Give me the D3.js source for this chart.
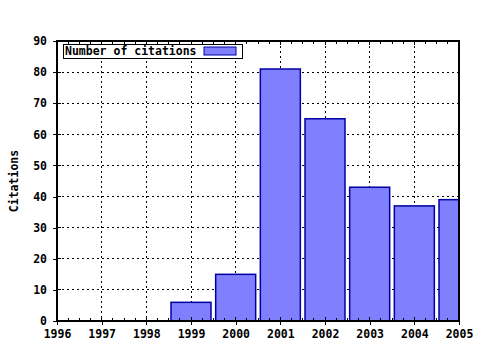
<!DOCTYPE html>
<html>
<head>
<meta charset="utf-8">
<script src="https://cdn.jsdelivr.net/npm/d3@7"></script>
<style>
  body { margin: 0; background: #fff; }
  text { font-family: "DejaVu Sans Mono", monospace; font-weight: bold; font-size: 11.5px; fill: #000; }
</style>
</head>
<body>
<svg id="chart" width="480" height="350"></svg>
<script>
// data
const years = [1996, 1997, 1998, 1999, 2000, 2001, 2002, 2003, 2004, 2005];
const citations = [0, 0, 0, 6, 15, 81, 65, 43, 37, 39];
const yTicks = [0, 10, 20, 30, 40, 50, 60, 70, 80, 90];

const margin = { left: 57, right: 21, top: 41, bottom: 29 };
const svg = d3.select("#chart");
const W = +svg.attr("width"), H = +svg.attr("height");
const iw = W - margin.left - margin.right, ih = H - margin.top - margin.bottom;

const g = svg.append("g").attr("transform", `translate(${margin.left},${margin.top})`);

const x = d3.scaleLinear().domain([1996, 2005]).range([0, iw]);
const y = d3.scaleLinear().domain([0, 90]).range([ih, 0]);

// grid
g.selectAll(".vgrid").data(years.slice(1, -1)).enter().append("line")
  .attr("x1", d => x(d)).attr("x2", d => x(d)).attr("y1", 0).attr("y2", ih)
  .attr("stroke", "#000").attr("stroke-width", 1).attr("stroke-dasharray", "2,3")
  .attr("shape-rendering", "crispEdges");
g.selectAll(".hgrid").data(yTicks.slice(1, -1)).enter().append("line")
  .attr("x1", 0).attr("x2", iw).attr("y1", d => y(d)).attr("y2", d => y(d))
  .attr("stroke", "#000").attr("stroke-width", 1).attr("stroke-dasharray", "2,3")
  .attr("shape-rendering", "crispEdges");

// bars
const bw = 40;
g.append("clipPath").attr("id", "clip").append("rect").attr("width", iw + 1).attr("height", ih);
g.append("g").attr("clip-path", "url(#clip)")
  .selectAll("rect").data(years.map((yr, i) => ({ yr, v: citations[i] })).filter(d => d.v > 0))
  .enter().append("rect")
  .attr("x", d => x(d.yr) - bw / 2)
  .attr("y", d => y(d.v))
  .attr("width", bw)
  .attr("height", d => ih - y(d.v))
  .attr("fill", "#8080ff")
  .attr("stroke", "#0000a0")
  .attr("stroke-width", 1.5);

// frame
g.append("rect").attr("width", iw).attr("height", ih)
  .attr("fill", "none").attr("stroke", "#000").attr("stroke-width", 1.3)
  .attr("shape-rendering", "crispEdges");

// x axis
const minor = d3.range(0, 9 * 4 + 1).map(i => 1996 + i / 4);
const xAxis = g.append("g").attr("transform", `translate(0,${ih})`)
  .call(d3.axisBottom(x).tickValues(years).tickFormat(d3.format("d")).tickSize(4).tickPadding(5));
xAxis.select(".domain").remove();
xAxis.selectAll("text").style("font-size", "11.5px").style("font-family", null);
g.selectAll(".xminor").data(minor).enter().append("line")
  .attr("x1", d => x(d)).attr("x2", d => x(d))
  .attr("y1", ih).attr("y2", d => ih - (Number.isInteger(d) ? 4 : 3))
  .attr("stroke", "#000").attr("shape-rendering", "crispEdges");
g.selectAll(".xminorTop").data(minor).enter().append("line")
  .attr("x1", d => x(d)).attr("x2", d => x(d))
  .attr("y1", 0).attr("y2", d => (Number.isInteger(d) ? 4 : 3))
  .attr("stroke", "#000").attr("shape-rendering", "crispEdges");

// y axis
const yAxis = g.append("g")
  .call(d3.axisLeft(y).tickValues(yTicks).tickSize(4).tickPadding(6));
yAxis.select(".domain").remove();
yAxis.selectAll("text").style("font-size", "11.5px").style("font-family", null);
g.selectAll(".yin").data(yTicks).enter().append("line")
  .attr("x1", 0).attr("x2", 4).attr("y1", d => y(d)).attr("y2", d => y(d))
  .attr("stroke", "#000").attr("shape-rendering", "crispEdges");
svg.selectAll(".tick line").attr("shape-rendering", "crispEdges");

// y label
svg.append("text")
  .attr("transform", `translate(18,${margin.top + ih / 2}) rotate(-90)`)
  .attr("text-anchor", "middle")
  .text("Citations");

// legend
const lg = g.append("g").attr("transform", "translate(6,3)");
lg.append("rect").attr("width", 179).attr("height", 14)
  .attr("fill", "#fff").attr("stroke", "#000").attr("shape-rendering", "crispEdges");
lg.append("text").attr("x", 2).attr("y", 11).text("Number of citations");
lg.append("rect").attr("x", 141).attr("y", 3).attr("width", 32).attr("height", 8)
  .attr("fill", "#8080ff").attr("stroke", "#0000a0");
</script>
</body>
</html>
